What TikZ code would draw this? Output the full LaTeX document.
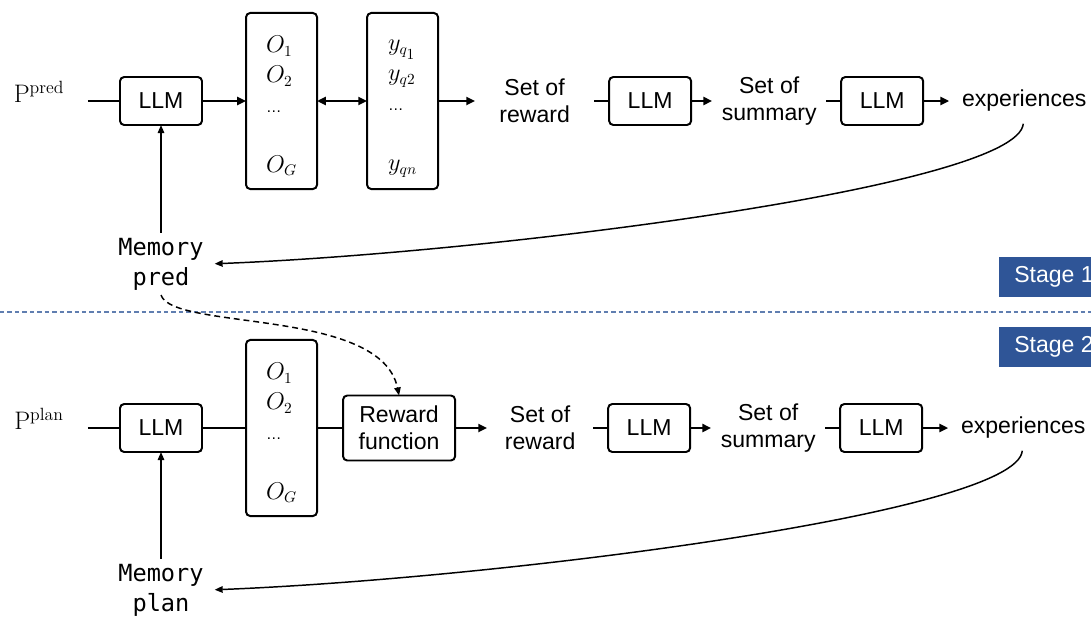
\documentclass[tikz,border=0pt]{standalone}
\usepackage{fontspec}
\usetikzlibrary{arrows.meta, positioning}
\newfontfamily\arialfont{Liberation Sans}
\newfontfamily\memfamily{DejaVu Sans Mono}
\newcommand{\lbfont}{\arialfont\fontsize{16.4}{19.2}\selectfont}
\newcommand{\colfont}{\fontsize{16}{21.3}\selectfont}
\newcommand{\memfont}{\memfamily\fontsize{16.8}{21.3}\selectfont}
\newcommand{\rowdots}{{\arialfont\fontsize{11}{13}\selectfont …}}
\newcommand{\toprow}{\rule{0pt}{0.66cm}}
\definecolor{stageblue}{RGB}{47,85,151}
\definecolor{sepblue}{RGB}{96,126,176}

\begin{document}
\begin{tikzpicture}[x=0.025cm, y=-0.025cm,
    llm/.style={draw, line width=1.4pt, outer sep=0pt, rounded corners=3pt, minimum width=2.05cm, minimum height=1.2cm, font=\lbfont},
    col/.style={draw, line width=1.4pt, outer sep=0pt, rounded corners=3pt, minimum width=1.775cm, minimum height=4.4cm, align=left, font=\colfont},
    lbl/.style={inner sep=0pt, outer sep=0pt, align=center, font=\lbfont},
    pvar/.style={inner sep=0pt, outer sep=0pt, minimum width=2.45cm, text height=0.4cm, text depth=0.35cm, font=\fontsize{18}{21}\selectfont},
    mem/.style={align=center, font=\memfont},
    stage/.style={fill=stageblue, text=white, font=\lbfont, minimum height=1cm, inner xsep=0.375cm, anchor=west},
    link/.style={line width=1.9pt},
    arr/.style={link, -{Triangle[length=2.2mm, width=2mm]}},
    back/.style={line width=1.05pt, -{Triangle[length=2mm, width=1.6mm]}}
  ]
  \useasboundingbox (0,0) rectangle (1091,618);
  \clip (0,0) rectangle (1091,618);

  % Stage 1 row
  \node[llm] (llmA) at (161,101) {LLM};
  \node[pvar, left=0.8cm of llmA] (pA) {$\mathrm{P}^{\mathrm{pred}}$};
  \node[col, right=1.1cm of llmA] (oA) {\toprow$O_1$\\ $O_2$\\ \rowdots\\[21.3pt] $O_G$};
  \node[col, right=1.25cm of oA] (yA) {\toprow$y_{q_{\scriptstyle 1}}$\\ $y_{q2}$\\ \rowdots\\[21.3pt] $y_{qn}$};
  \node[lbl, right=0.925cm of yA, minimum width=2.975cm] (rewA) {Set of\\reward};
  \node[llm, right=0.375cm of rewA] (llmB) {LLM};
  \node[lbl, right=0.525cm of llmB, minimum width=2.85cm] (sumA) {Set of\\summary};
  \node[llm, right=0.375cm of sumA] (llmC) {LLM};
  \node[lbl, right=0.65cm of llmC, minimum width=3.75cm] (expA) {experiences};
  \node[mem] (memA) at (161,264) {Memory\\pred};

  % Stage 2 row
  \node[llm] (llmD) at (161,428) {LLM};
  \node[pvar, left=0.8cm of llmD] (pB) {$\mathrm{P}^{\mathrm{plan}}$};
  \node[col, right=1.1cm of llmD] (oB) {\toprow$O_1$\\ $O_2$\\ \rowdots\\[21.3pt] $O_G$};
  \node[llm, right=0.65cm of oB, minimum width=2.8cm, minimum height=1.625cm, align=center] (rewF) {Reward\\function};
  \node[lbl, right=0.8cm of rewF, minimum width=2.65cm] (rewB) {Set of\\reward};
  \node[llm, right=0.375cm of rewB] (llmE) {LLM};
  \node[lbl, right=0.525cm of llmE, minimum width=2.85cm] (sumB) {Set of\\summary};
  \node[llm, right=0.375cm of sumB] (llmF) {LLM};
  \node[lbl, right=0.65cm of llmF, minimum width=3.75cm] (expB) {experiences};
  \node[mem] (memB) at (161,590) {Memory\\plan};

  % Stage tags and divider
  \draw[sepblue, line width=1pt, dash pattern=on 3.2pt off 2.1pt] (0,312) -- (1091,312);
  \node[stage] (st1) at (999,277) {Stage 1};
  \node[stage] (st2) at (999,347) {Stage 2};

  % Arrows, stage 1
  \draw[link] (pA) -- (llmA);
  \draw[arr] (llmA) -- (oA);
  \draw[link, {Triangle[length=2.2mm, width=2mm]}-{Triangle[length=2.2mm, width=2mm]}] (oA) -- (yA);
  \draw[arr] (yA) -- (rewA);
  \draw[link] (rewA) -- (llmB);
  \draw[arr] (llmB) -- (sumA);
  \draw[link] (sumA) -- (llmC);
  \draw[arr] (llmC) -- (expA);
  \draw[back] (memA) -- (llmA);
  \draw[back, shorten <=0.3cm, shorten >=0.15cm] (expA.south) .. controls +(-6,75) and +(282,-11) .. (memA.east);

  % Arrows, stage 2
  \draw[link] (pB) -- (llmD);
  \draw[link] (llmD) -- (oB);
  \draw[link] (oB) -- (rewF);
  \draw[arr] (rewF) -- (rewB);
  \draw[link] (rewB) -- (llmE);
  \draw[arr] (llmE) -- (sumB);
  \draw[link] (sumB) -- (llmF);
  \draw[arr] (llmF) -- (expB);
  \draw[back] (memB) -- (llmD);
  \draw[back, shorten <=0.3cm, shorten >=0.15cm] (expB.south) .. controls +(-6,75) and +(282,-11) .. (memB.east);

  % Memory pred feeds the reward function
  \draw[back, dash pattern=on 4.2pt off 2.8pt] (memA.south) .. controls +(12,36) and +(-18,-88) .. (rewF.north);
\end{tikzpicture}
\end{document}
